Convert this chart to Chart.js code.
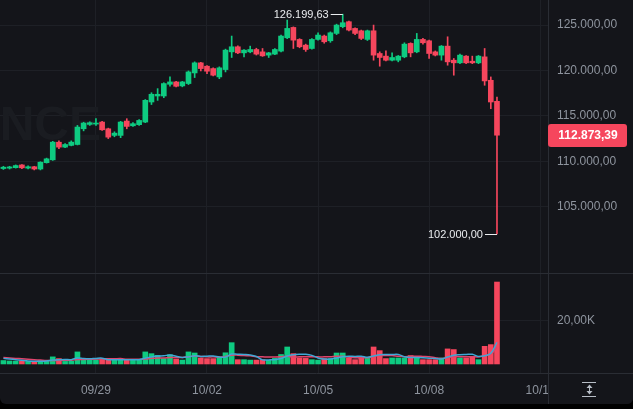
<!DOCTYPE html>
<html>
<head>
<meta charset="utf-8">
<script src="https://cdn.jsdelivr.net/npm/chart.js@4.4.1/dist/chart.umd.min.js"></script>
<style>
  html, body { margin: 0; padding: 0; background: #000; }
  #quadro { position: relative; width: 633px; height: 404px; background: #14151a; border-radius: 0 0 6px 6px; overflow: hidden; }
  #precos { position: absolute; left: 0; top: 0; }
  #volume { position: absolute; left: 0; top: 273px; }
</style>
</head>
<body>
<div id="quadro">
  <canvas id="precos" width="633" height="273"></canvas>
  <canvas id="volume" width="633" height="131"></canvas>
</div>
<script>
// velas de 4h (abertura, maxima, minima, fechamento)
const abertura = [
  109200, 109250, 109300, 109600, 109250, 109400, 109150, 109850, 110160, 112100,
  111560, 111750, 111850, 113580, 114060, 114100, 114320, 113580, 112850, 112850,
  114430, 113910, 114030, 114320, 116530, 117190, 117190, 118480, 118740, 118300,
  118560, 119730, 120840, 120470, 120210, 119290, 120100, 122050, 122610, 121940,
  122050, 122310, 122050, 121690, 121800, 122130, 123600, 124740, 123420, 122790,
  122420, 123420, 123790, 123270, 124080, 124820, 125370, 124630, 124370, 123420,
  124370, 121870, 121580, 121130, 121130, 121500, 122980, 122050, 123420, 123270,
  122050, 121690, 122680, 121130, 120840, 121580, 121020, 120840, 121500, 118920,
  116600
];
const fechamento = [
  109350, 109380, 109530, 109280, 109400, 109150, 109900, 110270, 112110, 111560,
  111850, 112110, 113770, 114210, 114250, 114200, 113470, 112660, 113100, 114320,
  113840, 114140, 114500, 116710, 117380, 117380, 118560, 118740, 118260, 118740,
  119840, 120840, 120210, 119920, 119480, 120290, 122240, 122610, 121940, 122240,
  122310, 121800, 121610, 121940, 122310, 123790, 124630, 123340, 122610, 122310,
  123420, 123900, 123160, 124150, 125000, 125260, 124450, 124080, 123530, 124370,
  121690, 121430, 121130, 121430, 121580, 122900, 121940, 123420, 123050, 121870,
  121690, 122680, 120950, 120840, 121690, 120840, 120840, 121580, 118850, 116530,
  112873.39
];
const maxima = [
  109450, 109450, 109600, 109650, 109500, 109450, 109950, 110350, 112200, 112250,
  111950, 112250, 113950, 114300, 114350, 114690, 114400, 113650, 113250, 114400,
  114690, 114250, 114600, 116800, 117550, 118000, 118650, 119290, 118800, 118800,
  119950, 120950, 120900, 120550, 120300, 120400, 122350, 123790, 122700, 122300,
  122680, 122450, 122420, 122000, 122400, 123900, 125550, 124800, 123500, 122900,
  123500, 124150, 123900, 124250, 125100, 126199.63, 125450, 124700, 124450, 124450,
  125000, 122050, 122160, 121940, 121650, 123050, 123050, 124080, 123530, 123350,
  122150, 122750, 123710, 121320, 121800, 121650, 121580, 121650, 122420, 119290,
  117080
];
const minima = [
  109100, 109150, 109250, 109200, 109150, 109050, 109050, 109800, 110100, 111400,
  111500, 111700, 111800, 113350, 113950, 113950, 113400, 112500, 112700, 112600,
  113580, 113850, 113950, 114250, 116250, 116710, 117000, 118260, 118200, 118200,
  118450, 119220, 119950, 119660, 119400, 119100, 119840, 121430, 121850, 121500,
  121950, 121700, 121550, 121430, 121750, 122050, 123500, 122420, 122500, 122100,
  122350, 123350, 123000, 123100, 123950, 124700, 124350, 123950, 123400, 123300,
  121130, 120470, 121050, 121050, 120950, 121400, 121500, 121950, 122900, 121320,
  121600, 121130, 120580, 119480, 120750, 120750, 120750, 120750, 118370, 115790,
  102000
];
const volumes = [
  1600, 1400, 1300, 1500, 1200, 1100, 1500, 1700, 3300, 2500,
  1200, 1300, 5600, 2000, 1900, 2000, 2200, 2000, 1800, 2200,
  2000, 1900, 2000, 5600, 4800, 4000, 2500, 4300, 2300, 1800,
  5600, 5100, 2800, 2500, 2500, 3100, 5200, 9900, 2000, 2000,
  1800, 1800, 2000, 1700, 2600, 4400, 7900, 4800, 2800, 2600,
  2000, 1800, 2500, 2500, 5100, 5100, 2800, 2000, 2800, 2800,
  7900, 6200, 2500, 2800, 2800, 2800, 3900, 2800, 2000, 2000,
  2000, 2800, 7000, 6700, 2800, 2800, 3100, 2000, 8200, 9000,
  38100
];
// medias do volume
const mediaAzul = [
  2600, 2300, 2000, 1700, 1400, 1300, 1300, 1400, 1800, 2000,
  2100, 2000, 2800, 2500, 2400, 2600, 2700, 2000, 2000, 2000,
  2000, 2000, 2000, 2700, 3300, 3700, 3800, 4200, 3600, 3000,
  3300, 3800, 3500, 3600, 3700, 3200, 3200, 4600, 4500, 4400,
  4200, 3500, 1900, 1900, 2000, 2500, 3700, 4300, 4500, 4500,
  4000, 2800, 2300, 2300, 2800, 3400, 3600, 3500, 3600, 3100,
  3700, 4300, 4400, 4400, 4400, 3400, 3000, 3000, 2900, 2700,
  2500, 2300, 3200, 4100, 4300, 4400, 4500, 3500, 3800, 5000,
  10000
];
const mediaRosa = [
  3000, 2800, 2600, 2400, 2200, 2000, 1800, 1600, 1600, 1700,
  1700, 1700, 2100, 2100, 2200, 2300, 2400, 2400, 2400, 2500,
  2200, 2200, 2200, 2300, 2600, 2800, 2800, 3000, 3000, 3000,
  3400, 3700, 3500, 3300, 3300, 3200, 3500, 4100, 4100, 3900,
  3800, 3400, 3300, 3200, 3200, 3300, 3600, 3200, 3300, 3300,
  3300, 3300, 3300, 3400, 3600, 3600, 3100, 2900, 2900, 2900,
  3500, 3900, 3900, 3900, 3600, 3400, 3500, 3600, 3500, 3400,
  2900, 2500, 3000, 3400, 3400, 3400, 3400, 3300, 3900, 4600,
  7800
];
const rotulosDias = ['09/29', '10/02', '10/05', '10/08', '10/11'];
const posicaoDias = [15, 33, 51, 69, 87];
const ticksPreco = [105000, 110000, 115000, 120000, 125000];
const ticksVolume = [20000];

const FONTE = '"Liberation Sans", Arial, sans-serif';
const COR_FUNDO = '#14151a';
const COR_GRADE = '#1e2026';
const COR_SEPARADOR = '#2a2d34';
const COR_TEXTO = '#8e949e';
const VERDE = '#0ecb81';
const VERMELHO = '#f6465d';

const cores = fechamento.map((c, i) => c >= abertura[i] ? VERDE : VERMELHO);

function formatarPreco(v) {
    const partes = v.toFixed(2).split('.');
    partes[0] = partes[0].replace(/\B(?=(\d{3})+(?!\d))/g, '.');
    return partes.join(',');
}

function formatarVolume(v) {
    return (v / 1000).toFixed(2).replace('.', ',') + 'K';
}

// eixo x comum aos dois graficos
function eixoX(mostrarRotulos, altura) {
    return {
        type: 'linear',
        offset: false,
        min: -0.55,
        max: 88.27,
        grid: { color: COR_GRADE, drawTicks: false, offset: false },
        border: { display: false },
        ticks: {
            display: mostrarRotulos,
            color: COR_TEXTO,
            font: { size: 12, family: FONTE },
            padding: 10,
            maxRotation: 0,
            autoSkip: false,
            callback: (valor) => rotulosDias[posicaoDias.indexOf(valor)] || ''
        },
        afterBuildTicks: (escala) => { escala.ticks = posicaoDias.map(v => ({ value: v })); },
        afterFit: (escala) => { escala.height = altura; escala.paddingLeft = 0; escala.paddingRight = 0; }
    };
}

function eixoY(min, max, marcas, formato) {
    return {
        position: 'right',
        min: min,
        max: max,
        grid: { color: COR_GRADE, drawTicks: false },
        border: { display: false },
        ticks: {
            color: COR_TEXTO,
            font: { size: 12, family: FONTE },
            padding: 9,
            callback: (valor) => formato(valor)
        },
        afterBuildTicks: (escala) => { escala.ticks = marcas.map(v => ({ value: v })); },
        afterFit: (escala) => { escala.width = 85; escala.paddingTop = 0; escala.paddingBottom = 0; }
    };
}

// marca d'agua
const marcaDagua = {
    id: 'marcaDagua',
    beforeDatasetsDraw(chart) {
        const ctx = chart.ctx;
        ctx.save();
        ctx.font = 'bold 48px ' + FONTE;
        ctx.fillStyle = '#1a1c21';
        ctx.textAlign = 'right';
        ctx.textBaseline = 'alphabetic';
        ctx.fillText('BINANCE', 101, 140);
        ctx.restore();
    }
};

// maxima e minima do periodo
const marcadores = {
    id: 'marcadores',
    afterDatasetsDraw(chart) {
        const { ctx, scales: { x, y } } = chart;
        const iMax = maxima.indexOf(Math.max(...maxima));
        const iMin = minima.indexOf(Math.min(...minima));
        ctx.save();
        ctx.font = '11px ' + FONTE;
        ctx.fillStyle = '#eaecef';
        ctx.strokeStyle = '#eaecef';
        ctx.lineWidth = 1;
        ctx.textAlign = 'right';
        ctx.textBaseline = 'middle';
        [[iMax, maxima[iMax]], [iMin, minima[iMin]]].forEach(([i, v]) => {
            const px = x.getPixelForValue(i);
            const py = Math.round(y.getPixelForValue(v)) + 0.5;
            ctx.beginPath();
            ctx.moveTo(px - 12, py);
            ctx.lineTo(px, py);
            ctx.stroke();
            ctx.fillText(formatarPreco(v), px - 14, py);
        });
        ctx.restore();
    }
};

// etiqueta do ultimo preco + separador vertical
const etiquetaPreco = {
    id: 'etiquetaPreco',
    afterDraw(chart) {
        const ctx = chart.ctx;
        const ultimo = fechamento[fechamento.length - 1];
        const py = Math.round(chart.scales.y.getPixelForValue(ultimo));
        ctx.save();
        ctx.strokeStyle = COR_SEPARADOR;
        ctx.lineWidth = 1;
        ctx.beginPath();
        ctx.moveTo(548.5, 0);
        ctx.lineTo(548.5, chart.height);
        ctx.stroke();
        ctx.fillStyle = VERMELHO;
        ctx.beginPath();
        ctx.roundRect(548, py - 11, 79, 23, 3);
        ctx.fill();
        ctx.fillStyle = '#ffffff';
        ctx.font = 'bold 12px ' + FONTE;
        ctx.textAlign = 'center';
        ctx.textBaseline = 'middle';
        ctx.fillText(formatarPreco(ultimo), 588, py + 1);
        ctx.restore();
    }
};

// linhas do painel de volume e icone do eixo
const molduraVolume = {
    id: 'molduraVolume',
    afterDraw(chart) {
        const ctx = chart.ctx;
        ctx.save();
        ctx.fillStyle = COR_FUNDO;
        ctx.fillRect(549, 101, 84, 30);
        ctx.strokeStyle = COR_SEPARADOR;
        ctx.lineWidth = 1;
        ctx.beginPath();
        ctx.moveTo(0, 0.5); ctx.lineTo(chart.width, 0.5);
        ctx.moveTo(0, 100.5); ctx.lineTo(chart.width, 100.5);
        ctx.moveTo(548.5, 0); ctx.lineTo(548.5, chart.height);
        ctx.stroke();
        // icone de escala
        ctx.strokeStyle = '#b7bdc6';
        ctx.fillStyle = '#b7bdc6';
        ctx.beginPath();
        ctx.moveTo(582, 109.5); ctx.lineTo(596, 109.5);
        ctx.moveTo(582, 123.5); ctx.lineTo(596, 123.5);
        ctx.moveTo(589.5, 113); ctx.lineTo(589.5, 120);
        ctx.stroke();
        ctx.beginPath();
        ctx.moveTo(586.5, 115); ctx.lineTo(589.5, 111.5); ctx.lineTo(592.5, 115);
        ctx.closePath();
        ctx.moveTo(586.5, 118); ctx.lineTo(589.5, 121.5); ctx.lineTo(592.5, 118);
        ctx.closePath();
        ctx.fill();
        ctx.restore();
    }
};

const opcoesBase = {
    responsive: false,
    animation: false,
    events: [],
    layout: { padding: 0 },
    plugins: { legend: { display: false }, tooltip: { enabled: false } }
};

document.addEventListener('DOMContentLoaded', function() {
    new Chart(document.getElementById('precos').getContext('2d'), {
        type: 'bar',
        data: {
            datasets: [{
                data: abertura.map((a, i) => ({ x: i, y: [a, fechamento[i]] })),
                backgroundColor: cores,
                barThickness: 5,
                minBarLength: 1,
                grouped: false,
                order: 0
            }, {
                data: abertura.map((a, i) => ({ x: i, y: [minima[i], maxima[i]] })),
                backgroundColor: cores,
                barThickness: 1,
                grouped: false,
                order: 1
            }]
        },
        options: {
            ...opcoesBase,
            scales: {
                x: eixoX(false, 0),
                y: eixoY(97700, 127760, ticksPreco, formatarPreco)
            }
        },
        plugins: [marcaDagua, marcadores, etiquetaPreco]
    });

    new Chart(document.getElementById('volume').getContext('2d'), {
        type: 'bar',
        data: {
            datasets: [{
                type: 'line',
                data: mediaAzul.map((v, i) => ({ x: i, y: v })),
                borderColor: '#3fa8d6',
                borderWidth: 1.5,
                pointRadius: 0,
                tension: 0.35,
                order: 0
            }, {
                type: 'line',
                data: mediaRosa.map((v, i) => ({ x: i, y: v })),
                borderColor: '#e0456d',
                borderWidth: 1.5,
                pointRadius: 0,
                tension: 0.35,
                order: 1
            }, {
                data: volumes.map((v, i) => ({ x: i, y: v })),
                backgroundColor: cores,
                barThickness: 5,
                grouped: false,
                order: 2
            }]
        },
        options: {
            ...opcoesBase,
            scales: {
                x: eixoX(true, 31),
                y: eixoY(-4200, 42300, ticksVolume, formatarVolume)
            }
        },
        plugins: [molduraVolume]
    });
});
</script>
</body>
</html>
